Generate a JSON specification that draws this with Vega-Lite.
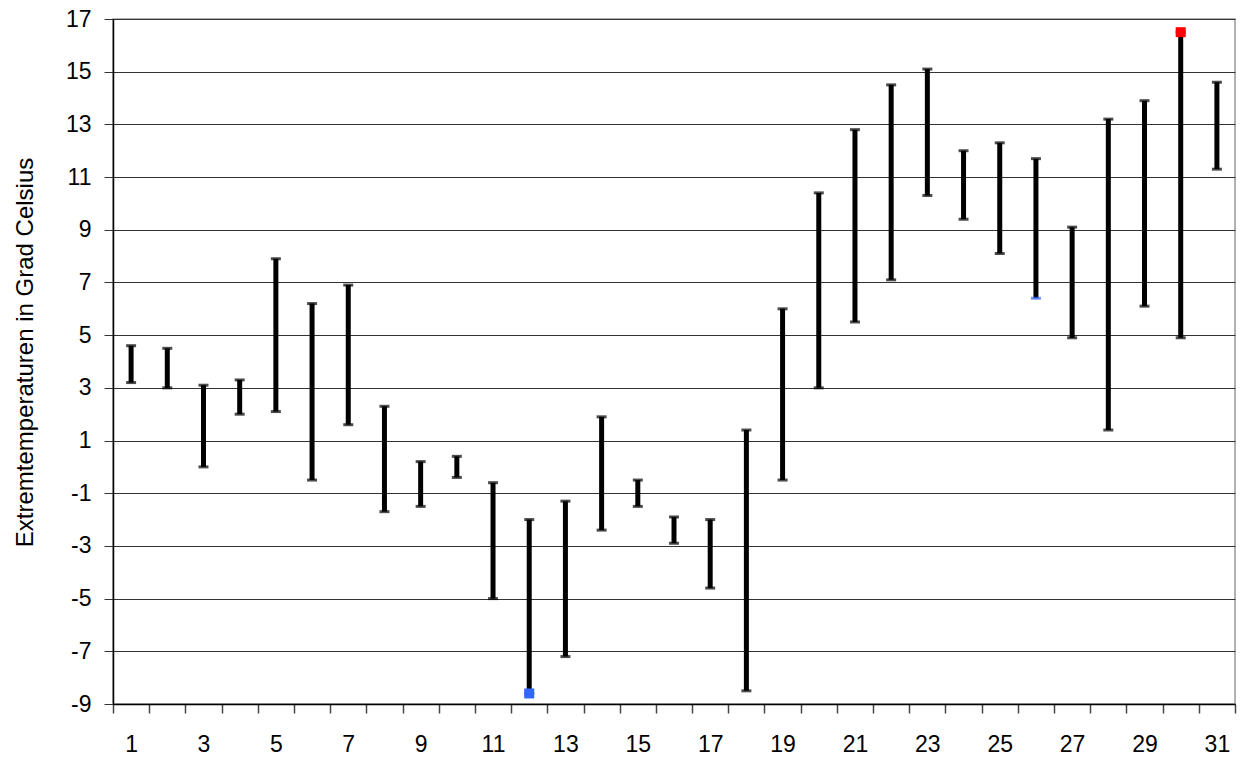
{
  "$schema": "https://vega.github.io/schema/vega-lite/v6.json",
  "autosize": "none",
  "width": 1122,
  "height": 685,
  "padding": {"left": 113, "top": 19, "right": 7, "bottom": 54},
  "background": "white",
  "config": {
    "font": "Liberation Sans",
    "view": {"stroke": "#999999", "strokeWidth": 1.5}
  },
  "datasets": {
    "days": [
      {"day": 1, "min": 3.2, "max": 4.6},
      {"day": 2, "min": 3.0, "max": 4.5},
      {"day": 3, "min": 0.0, "max": 3.1},
      {"day": 4, "min": 2.0, "max": 3.3},
      {"day": 5, "min": 2.1, "max": 7.9},
      {"day": 6, "min": -0.5, "max": 6.2},
      {"day": 7, "min": 1.6, "max": 6.9},
      {"day": 8, "min": -1.7, "max": 2.3},
      {"day": 9, "min": -1.5, "max": 0.2},
      {"day": 10, "min": -0.4, "max": 0.4},
      {"day": 11, "min": -5.0, "max": -0.6},
      {"day": 12, "min": -8.6, "max": -2.0},
      {"day": 13, "min": -7.2, "max": -1.3},
      {"day": 14, "min": -2.4, "max": 1.9},
      {"day": 15, "min": -1.5, "max": -0.5},
      {"day": 16, "min": -2.9, "max": -1.9},
      {"day": 17, "min": -4.6, "max": -2.0},
      {"day": 18, "min": -8.5, "max": 1.4},
      {"day": 19, "min": -0.5, "max": 6.0},
      {"day": 20, "min": 3.0, "max": 10.4},
      {"day": 21, "min": 5.5, "max": 12.8},
      {"day": 22, "min": 7.1, "max": 14.5},
      {"day": 23, "min": 10.3, "max": 15.1},
      {"day": 24, "min": 9.4, "max": 12.0},
      {"day": 25, "min": 8.1, "max": 12.3},
      {"day": 26, "min": 6.4, "max": 11.7},
      {"day": 27, "min": 4.9, "max": 9.1},
      {"day": 28, "min": 1.4, "max": 13.2},
      {"day": 29, "min": 6.1, "max": 13.9},
      {"day": 30, "min": 4.9, "max": 16.5},
      {"day": 31, "min": 11.3, "max": 14.6}
    ],
    "extremes": [
      {"day": 12, "temp": -8.6, "kind": "Tiefstwert"},
      {"day": 30, "temp": 16.5, "kind": "Höchstwert"}
    ]
  },
  "encoding": {
    "x": {
      "field": "day",
      "type": "ordinal",
      "scale": {"paddingInner": 0, "paddingOuter": 0},
      "axis": {
        "title": null,
        "labelAngle": 0,
        "labelExpr": "datum.value % 2 == 1 ? datum.label : ''",
        "labelFont": "Liberation Sans",
        "labelFontSize": 23,
        "labelColor": "black",
        "labelPadding": 20,
        "tickBand": "extent",
        "tickSize": 9,
        "tickColor": "#444444",
        "tickWidth": 1.5,
        "domainColor": "black",
        "domainWidth": 1.5,
        "grid": false
      }
    }
  },
  "layer": [
    {
      "data": {"name": "days"},
      "mark": {"type": "rule", "color": "black", "strokeWidth": 5},
      "encoding": {
        "y": {
          "field": "min",
          "type": "quantitative",
          "scale": {"domain": [-9, 17], "nice": false, "zero": false},
          "axis": {
            "title": "Extremtemperaturen in Grad Celsius",
            "titleFont": "Liberation Sans",
            "titleFontSize": 24,
            "titleFontWeight": "normal",
            "titleColor": "black",
            "titlePadding": 28,
            "titleY": 333,
            "values": [-9, -7, -5, -3, -1, 1, 3, 5, 7, 9, 11, 13, 15, 17],
            "labelExpr": "'' + datum.value",
            "labelFont": "Liberation Sans",
            "labelFontSize": 23,
            "labelColor": "black",
            "labelPadding": 13,
            "tickSize": 9,
            "tickColor": "#333333",
            "tickWidth": 1,
            "domainColor": "black",
            "domainWidth": 1.5,
            "grid": true,
            "gridColor": "#333333",
            "gridWidth": 1
          }
        },
        "y2": {"field": "max"}
      }
    },
    {
      "data": {"name": "days"},
      "mark": {"type": "tick", "color": "black", "size": 10, "thickness": 3},
      "encoding": {"y": {"field": "max", "type": "quantitative"}}
    },
    {
      "data": {"name": "days"},
      "mark": {"type": "tick", "size": 10, "thickness": 3},
      "encoding": {
        "y": {"field": "min", "type": "quantitative"},
        "color": {
          "condition": {"test": "datum.day == 26", "value": "#3366ff"},
          "value": "black"
        }
      }
    },
    {
      "data": {"name": "extremes"},
      "mark": {"type": "square", "size": 100, "opacity": 1, "filled": true},
      "encoding": {
        "y": {"field": "temp", "type": "quantitative"},
        "color": {
          "field": "kind",
          "type": "nominal",
          "scale": {"domain": ["Tiefstwert", "Höchstwert"], "range": ["#3366ff", "#ff0000"]},
          "legend": null
        }
      }
    }
  ]
}
